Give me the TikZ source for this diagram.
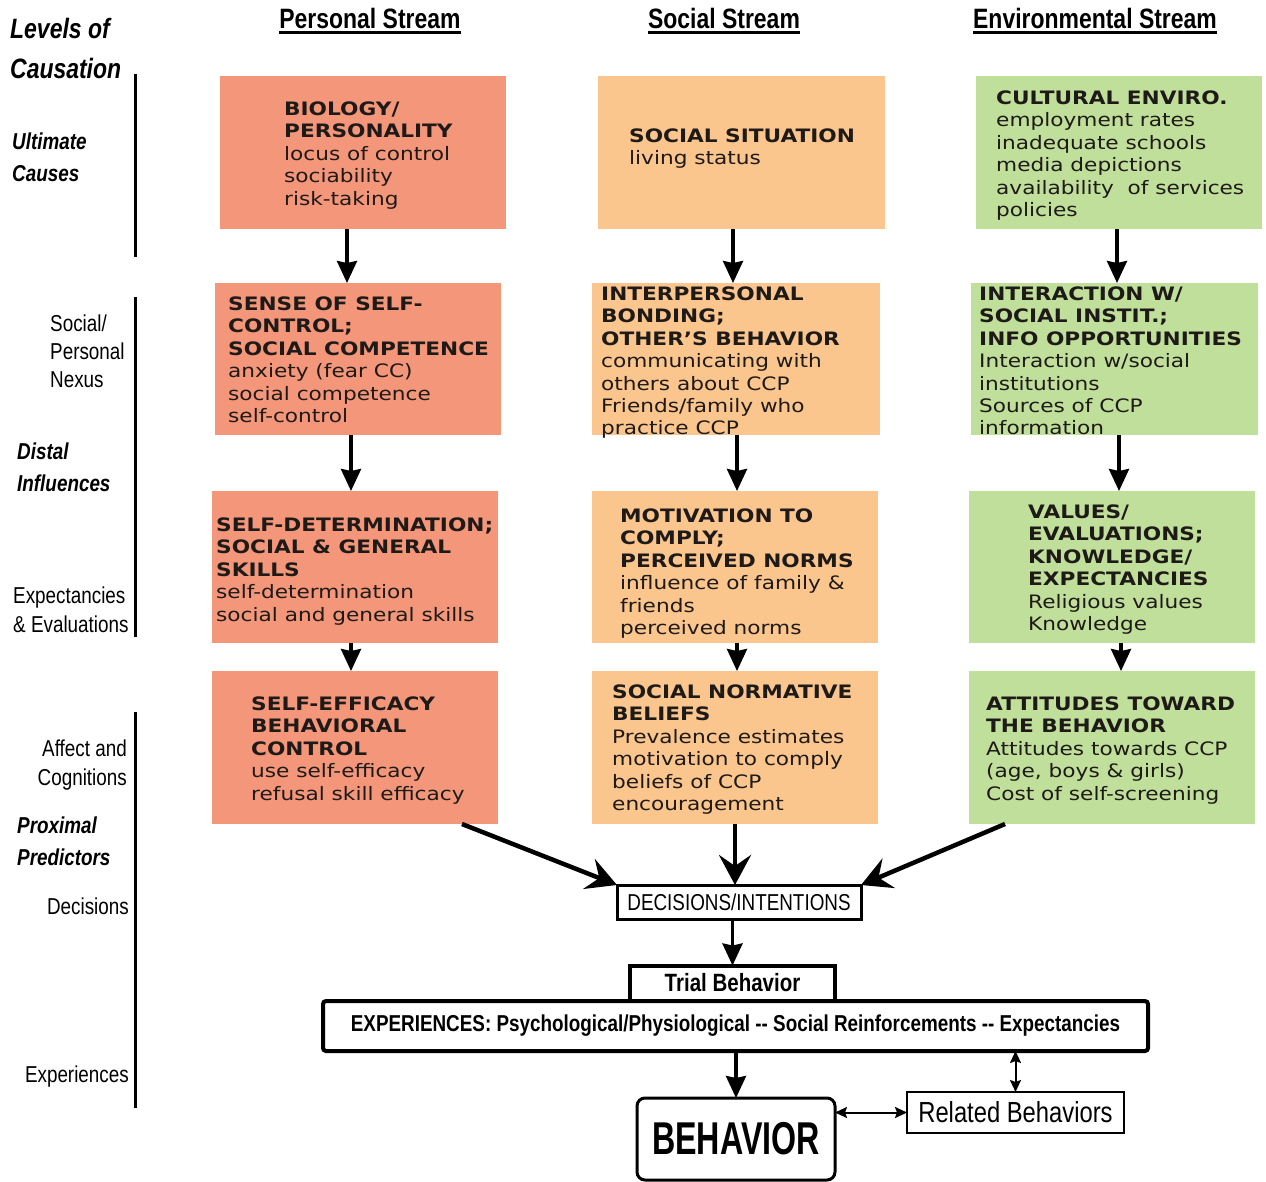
\documentclass[tikz,border=0pt]{standalone}
\usepackage{fontspec}
\usetikzlibrary{arrows.meta}
\newfontfamily\boxfont[FakeStretch=1.17]{DejaVu Sans}
\newfontfamily\narrow[FakeStretch=0.82]{Liberation Sans}
\newfontfamily\xnarrow[FakeStretch=0.70]{Liberation Sans}
\definecolor{salmon}{HTML}{F4967A}
\definecolor{peach}{HTML}{FBC58E}
\definecolor{leaf}{HTML}{C0DF9A}
\definecolor{ink}{HTML}{1E1A18}
\newcommand\myul[1]{\setbox0\hbox{#1}\rlap{\rule[-5pt]{\wd0}{2.5pt}}\box0}
\tikzset{
  box/.style={inner sep=0pt, outer sep=0pt, anchor=north west, draw=none},
  txt/.style={anchor=north west, inner sep=0pt, align=left, text=ink,
    font=\boxfont\fontsize{18.5}{22.4}\selectfont, execute at begin node=\rule{0pt}{12pt}},
  lab/.style={inner sep=0pt, align=left, font=\narrow\fontsize{23}{29}\selectfont},
  labr/.style={inner sep=0pt, align=right, anchor=east, font=\narrow\fontsize{23}{29}\selectfont},
  labb/.style={inner sep=0pt, align=left, anchor=west, font=\narrow\bfseries\itshape\fontsize{23}{32}\selectfont},
  head/.style={inner sep=0pt, font=\narrow\bfseries\fontsize{28}{32}\selectfont},
  arr/.style={line width=3.5pt, -{Stealth[length=22pt,width=20pt,inset=2pt]}},
  bigarr/.style={line width=4.5pt, -{Stealth[length=30pt,width=32pt,inset=11pt]}},
  dbl/.style={line width=2pt, {Stealth[length=12pt,width=11pt,inset=2pt]}-{Stealth[length=12pt,width=11pt,inset=2pt]}},
  flow/.style={draw, inner sep=0pt, outer sep=0pt, font=\narrow\fontsize{23}{26}\selectfont}
}
\begin{document}
\begin{tikzpicture}[x=1pt,y=-1pt]
\useasboundingbox (0,0) rectangle (1266,1182);
\fill[white] (0,0) rectangle (1266,1182);

% headers
\node[head] (h1) at (370,21) {\myul{Personal Stream}};
\node[head] (h2) at (724,21) {\myul{Social Stream}};
\node[head] (h3) at (1095,21) {\myul{Environmental Stream}};

% left labels
\node[labb, font=\narrow\bfseries\itshape\fontsize{28}{40}\selectfont] (lvl) at (10,48) {Levels of\\Causation};
\node[labb] (ult) at (12,157) {Ultimate\\Causes};
\node[lab, anchor=west, font=\narrow\fontsize{23}{28}\selectfont] (snx) at (50,351) {Social/\\Personal\\Nexus};
\node[labb] (dist) at (17,467) {Distal\\Influences};
\node[lab, anchor=west] (expe) at (13,610) {Expectancies\\\& Evaluations};
\node[labr] (aff) at (127,765) {Affect and\\Cognitions};
\node[labb] (prox) at (17,841.5) {Proximal\\Predictors};
\node[labr] (dec1) at (129,906) {Decisions};
\node[labr] (exl) at (129,1077) {Experiences};

\draw[line width=3pt] (135,74) -- (135,257);
\draw[line width=3pt] (135,297) -- (135,637);
\draw[line width=3pt] (135,712) -- (135,1108);

% row 1
\node[box, fill=salmon, minimum width=286, minimum height=153] (bio) at (220,76) {};
\node[box, fill=peach, minimum width=287, minimum height=153] (sit) at (598,76) {};
\node[box, fill=leaf, minimum width=286, minimum height=153] (cult) at (976,76) {};
% row 2
\node[box, fill=salmon, minimum width=286, minimum height=152] (sense) at (215,283) {};
\node[box, fill=peach, minimum width=288, minimum height=152] (inter) at (592,283) {};
\node[box, fill=leaf, minimum width=287, minimum height=152] (inst) at (971,283) {};
% row 3
\node[box, fill=salmon, minimum width=286, minimum height=152] (det) at (212,491) {};
\node[box, fill=peach, minimum width=286, minimum height=152] (mot) at (592,491) {};
\node[box, fill=leaf, minimum width=286, minimum height=152] (val) at (969,491) {};
% row 4
\node[box, fill=salmon, minimum width=286, minimum height=153] (eff) at (212,671) {};
\node[box, fill=peach, minimum width=286, minimum height=153] (norm) at (592,671) {};
\node[box, fill=leaf, minimum width=286, minimum height=153] (att) at (969,671) {};

% texts
\node[txt] (tbio) at (284,101.5) {\textbf{BIOLOGY/}\\\textbf{PERSONALITY}\\locus of control\\sociability\\risk-taking};
\node[txt] (tsit) at (629,128.5) {\textbf{SOCIAL SITUATION}\\living status};
\node[txt] (tcult) at (996,90.5) {\textbf{CULTURAL ENVIRO.}\\employment rates\\inadequate schools\\media depictions\\availability\ \ of services\\policies};
\node[txt] (tsense) at (228,296.5) {\textbf{SENSE OF SELF-}\\\textbf{CONTROL;}\\\textbf{SOCIAL COMPETENCE}\\anxiety (fear CC)\\social competence\\self-control};
\node[txt] (tinter) at (601,286.5) {\textbf{INTERPERSONAL}\\\textbf{BONDING;}\\\textbf{OTHER’S BEHAVIOR}\\communicating with\\others about CCP\\Friends/family who\\practice CCP};
\node[txt] (tinst) at (979,286.5) {\textbf{INTERACTION W/}\\\textbf{SOCIAL INSTIT.;}\\\textbf{INFO OPPORTUNITIES}\\Interaction w/social\\institutions\\Sources of CCP\\information};
\node[txt] (tdet) at (216,517.5) {\textbf{SELF-DETERMINATION;}\\\textbf{SOCIAL \& GENERAL}\\\textbf{SKILLS}\\self-determination\\social and general skills};
\node[txt] (tmot) at (620,508.5) {\textbf{MOTIVATION TO}\\\textbf{COMPLY;}\\\textbf{PERCEIVED NORMS}\\influence of family \&\\friends\\perceived norms};
\node[txt] (tval) at (1028,504.5) {\textbf{VALUES/}\\\textbf{EVALUATIONS;}\\\textbf{KNOWLEDGE/}\\\textbf{EXPECTANCIES}\\Religious values\\Knowledge};
\node[txt] (teff) at (251,696.5) {\textbf{SELF-EFFICACY}\\\textbf{BEHAVIORAL}\\\textbf{CONTROL}\\use self-efficacy\\refusal skill efficacy};
\node[txt] (tnorm) at (612,684.5) {\textbf{SOCIAL NORMATIVE}\\\textbf{BELIEFS}\\Prevalence estimates\\motivation to comply\\beliefs of CCP\\encouragement};
\node[txt] (tatt) at (986,696.5) {\textbf{ATTITUDES TOWARD}\\\textbf{THE BEHAVIOR}\\Attitudes towards CCP\\(age, boys \& girls)\\Cost of self-screening};

% column arrows
\coordinate (a1) at ([xshift=-16]bio.south);
\coordinate (a2) at ([xshift=-7]sense.south);
\coordinate (a3) at ([xshift=-4]det.south);
\coordinate (b1) at ([xshift=-8.5]sit.south);
\coordinate (b2) at ([xshift=1]inter.south);
\coordinate (b3) at ([xshift=2]mot.south);
\coordinate (c1) at ([xshift=-2]cult.south);
\coordinate (c2) at ([xshift=4.5]inst.south);
\coordinate (c3) at ([xshift=9]val.south);
\draw[arr] (a1) -- (a1 |- sense.north);
\draw[arr] (a2) -- (a2 |- det.north);
\draw[arr] (a3) -- (a3 |- eff.north);
\draw[arr] (b1) -- (b1 |- inter.north);
\draw[arr] (b2) -- (b2 |- mot.north);
\draw[arr] (b3) -- (b3 |- norm.north);
\draw[arr] (c1) -- (c1 |- inst.north);
\draw[arr] (c2) -- (c2 |- val.north);
\draw[arr] (c3) -- (c3 |- att.north);

% lower flow
\node[flow, line width=3pt, minimum width=244, minimum height=34] (dec) at (739,902) {DECISIONS/INTENTIONS};
\node[flow, line width=4pt, minimum width=825, minimum height=50, rounded corners=3pt, font=\narrow\bfseries\fontsize{23}{26}\selectfont] (exp) at (735.5,1026) {EXPERIENCES: Psychological/Physiological -{}- Social Reinforcements -{}- Expectancies};
\node[flow, line width=4pt, minimum width=205, minimum height=35, font=\narrow\bfseries\fontsize{25}{28}\selectfont] (trial) at (732.5,983) {Trial Behavior};
\node[flow, line width=3pt, minimum width=198, minimum height=82, rounded corners=8pt, font=\xnarrow\bfseries\fontsize{46}{50}\selectfont] (beh) at (736,1139) {BEHAVIOR};
\node[flow, line width=2.5pt, minimum width=217, minimum height=41, font=\narrow\fontsize{29}{32}\selectfont] (rel) at (1015.5,1112.5) {Related Behaviors};

\draw[bigarr] ([xshift=107]eff.south) -- (dec.north west);
\draw[bigarr] (norm.south) -- (norm.south |- dec.north);
\draw[bigarr] ([xshift=-107]att.south) -- (dec.north east);
\draw[arr] (dec.south -| trial.north) -- (trial.north);
\draw[arr] (exp.south -| beh.north) -- (beh.north);
\draw[dbl] (beh.east |- rel.west) -- (rel.west);
\draw[dbl] (exp.south -| rel.north) -- (rel.north);
\end{tikzpicture}
\end{document}
